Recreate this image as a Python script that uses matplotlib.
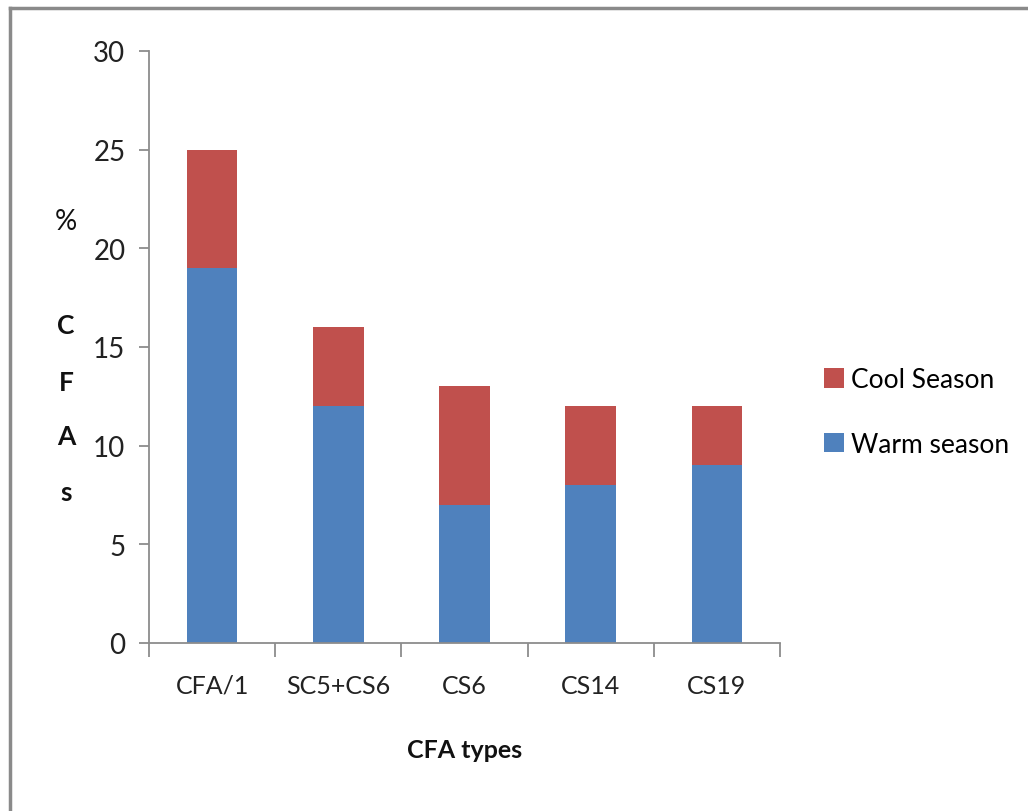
import matplotlib
matplotlib.use("Agg")
import matplotlib.pyplot as plt
from matplotlib.lines import Line2D
import numpy as np

categories = ["CFA/1", "SC5+CS6", "CS6", "CS14", "CS19"]
warm = [19, 12, 7, 8, 9]
cool = [6, 4, 6, 4, 3]
yticks = [0, 5, 10, 15, 20, 25, 30]

plt.rcParams['font.family'] = ['Lato', 'DejaVu Sans']

W, H = 1028, 812
fig = plt.figure(figsize=(W / 100, H / 100), dpi=100)
fig.patch.set_facecolor('white')

# outer border (top and left only, as visible)
fig.add_artist(Line2D([10 / W, 10 / W], [0, 1 - 9 / H], transform=fig.transFigure,
                      color='#8a8a8a', lw=2.5))
fig.add_artist(Line2D([10 / W, 1], [1 - 9 / H, 1 - 9 / H], transform=fig.transFigure,
                      color='#8a8a8a', lw=2.5))

x0, x1 = 149, 780
y0, y1 = 52, 644
ax = fig.add_axes([x0 / W, 1 - y1 / H, (x1 - x0) / W, (y1 - y0) / H])

x = np.arange(len(categories))
bw = 0.4
ax.bar(x, warm, width=bw, color='#4F81BD', label='Warm season', zorder=2)
ax.bar(x, cool, width=bw, bottom=warm, color='#C0504D', label='Cool Season', zorder=2)

ax.set_xlim(-0.5, len(categories) - 0.5)
ax.set_ylim(0, 30)
ax.set_yticks(yticks)
ax.set_yticklabels([str(v) for v in yticks], fontsize=20, color='#222222')
ax.set_xticks(x)
ax.set_xticklabels(categories, fontsize=18, color='#222222')
ax.tick_params(axis='x', length=0, pad=22)
ax.tick_params(axis='y', length=7, width=1.3, color='#8c8c8c', pad=10)
# minor ticks at category boundaries
ax.set_xticks(np.arange(-0.5, len(categories)), minor=True)
ax.tick_params(axis='x', which='minor', length=10, width=1.3, color='#8c8c8c')

for s in ['top', 'right']:
    ax.spines[s].set_visible(False)
for s in ['left', 'bottom']:
    ax.spines[s].set_color('#8c8c8c')
    ax.spines[s].set_linewidth(1.3)

ax.text(0.5, (y1 - 750) / (y1 - y0), 'CFA types', transform=ax.transAxes,
        fontsize=18, fontweight='bold', ha='center', va='center', color='#111111')

ax.text((66 - x0) / (x1 - x0), (y1 - 222) / (y1 - y0), '%', transform=ax.transAxes,
        fontsize=20, ha='center', va='center', color='#111111')
for lab, yp in zip(['C', 'F', 'A', 's'], [326, 383, 437, 493]):
    ax.text((66 - x0) / (x1 - x0), (y1 - yp) / (y1 - y0), lab, transform=ax.transAxes,
            fontsize=19, fontweight='bold', ha='center', va='center', color='#111111')

handles, labels = ax.get_legend_handles_labels()
leg = fig.legend(handles[::-1], labels[::-1], loc='center left',
                 bbox_to_anchor=(800 / W, 1 - 413 / H), frameon=False,
                 fontsize=19, handlelength=0.75, handleheight=0.75,
                 handletextpad=0.3, labelspacing=1.5)

fig.savefig('out.png', dpi=100, facecolor='white')
